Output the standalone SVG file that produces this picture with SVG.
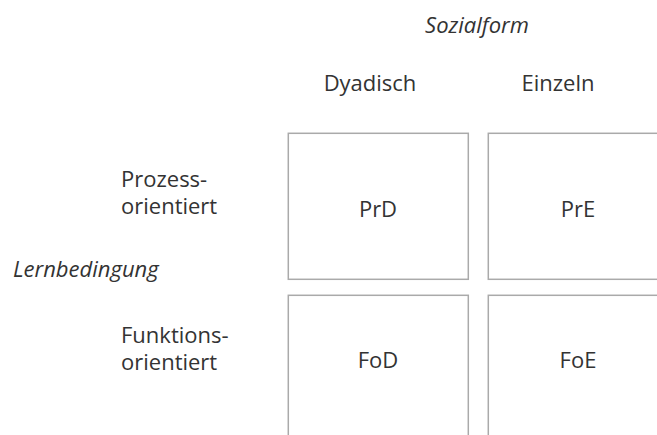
<svg xmlns="http://www.w3.org/2000/svg" width="657" height="435" viewBox="0 0 657 435">
<style>
text{font-family:"Open Sans","Noto Sans","Liberation Sans",sans-serif;font-size:22px;fill:#333}
.it{font-style:italic}
.c{text-anchor:middle}
.box{fill:#fff;stroke:#aaa;stroke-width:1.5}
</style>
<rect width="657" height="435" fill="#fff"/>
<g id="header-sozialform"><text class="it c" x="477" y="33">Sozialform</text></g>
<g id="header-dyadisch"><text class="c" x="370" y="91">Dyadisch</text></g>
<g id="header-einzeln"><text class="c" x="558" y="91">Einzeln</text></g>
<g id="label-lernbedingung"><text class="it" x="13" y="277">Lernbedingung</text></g>
<g id="label-prozess"><text x="121" y="187">Prozess-<tspan x="121" dy="26.5">orientiert</tspan></text></g>
<g id="label-funktion"><text x="121" y="343">Funktions-<tspan x="121" dy="26.5">orientiert</tspan></text></g>
<g id="node-PrD"><rect class="box" x="288.3" y="133.3" width="180" height="146"/><text class="c" x="378" y="217">PrD</text></g>
<g id="node-PrE"><rect class="box" x="488.3" y="133.3" width="180" height="146"/><text class="c" x="578" y="217">PrE</text></g>
<g id="node-FoD"><rect class="box" x="288.3" y="295.3" width="180" height="146"/><text class="c" x="378" y="368">FoD</text></g>
<g id="node-FoE"><rect class="box" x="488.3" y="295.3" width="180" height="146"/><text class="c" x="578" y="368">FoE</text></g>
<g id="connectors"></g>
</svg>
